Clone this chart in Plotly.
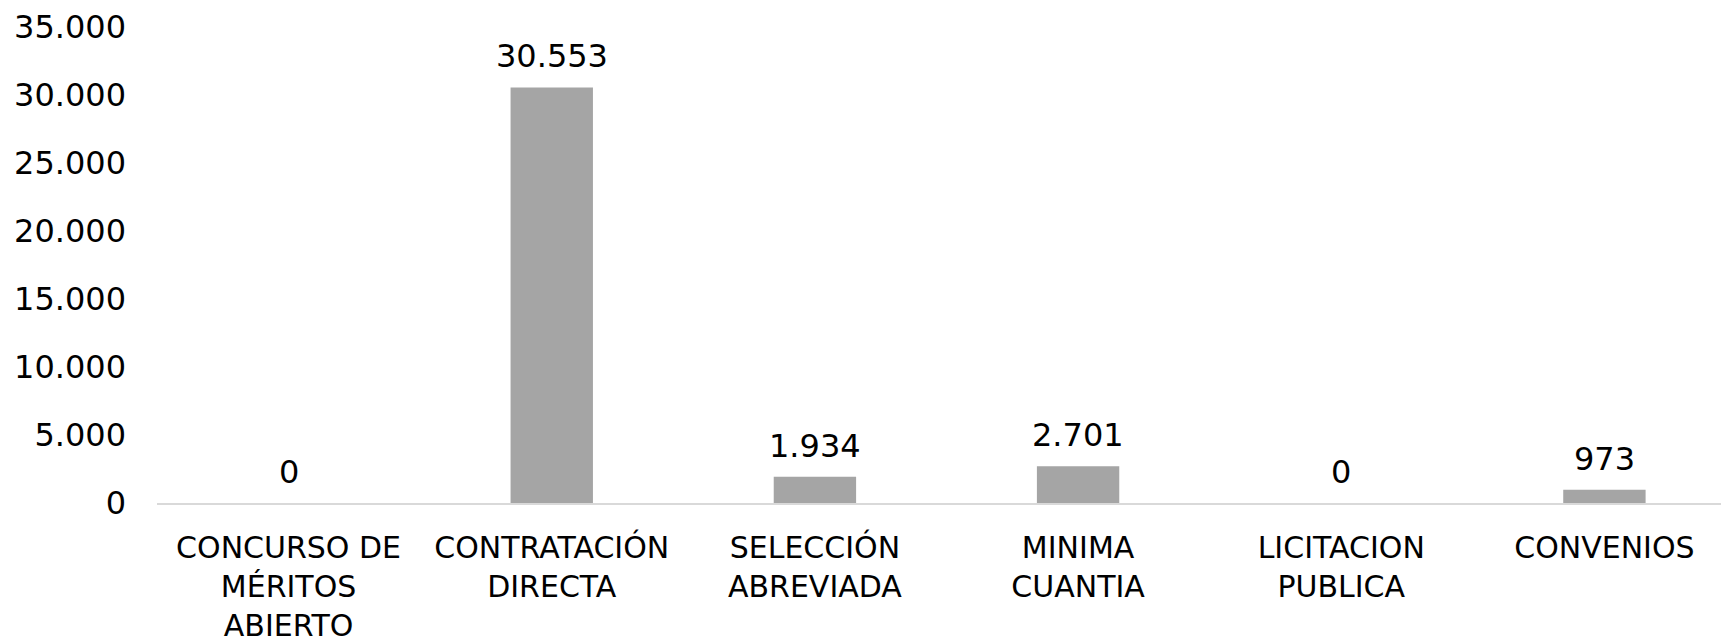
import plotly.graph_objects as go

categories = ["CONCURSO DE<br>MÉRITOS<br>ABIERTO", "CONTRATACIÓN<br>DIRECTA", "SELECCIÓN<br>ABREVIADA",
              "MINIMA<br>CUANTIA", "LICITACION<br>PUBLICA", "CONVENIOS"]
values = [0, 30553, 1934, 2701, 0, 973]
y_ticks = [0, 5000, 10000, 15000, 20000, 25000, 30000, 35000]

FONT = "DejaVu Sans"
FS = 32
FSX = 30

def fmt(v):
    return f"{v:,}".replace(",", ".")

fig = go.Figure()
fig.add_trace(go.Bar(x=categories, y=values, marker=dict(color="#a5a5a5", line=dict(width=0)),
                     width=0.313, hoverinfo="skip"))

for c, v in zip(categories, values):
    fig.add_annotation(x=c, y=v, text=fmt(v), showarrow=False, yanchor="middle", yshift=31,
                       font=dict(family=FONT, size=FS, color="#000000"))

fig.update_layout(
    width=1721, height=639,
    margin=dict(l=157, r=0, t=27, b=135.5),
    paper_bgcolor="white", plot_bgcolor="white",
    separators=",.",
    showlegend=False,
    font=dict(family=FONT, size=FS, color="#000000"),
)
fig.update_xaxes(range=[-0.5, 5.443], showline=True, linecolor="#d9d9d9", linewidth=2,
                 showgrid=False, zeroline=False, ticks="", tickangle=0, ticklabelstandoff=17,
                 automargin=False,
                 tickfont=dict(family=FONT, size=FSX, color="#000000"))
fig.update_yaxes(range=[0, 35000], tickvals=y_ticks, ticktext=[fmt(t) for t in y_ticks],
                 showgrid=False, zeroline=False, showline=False, ticks="", ticklabelstandoff=30,
                 automargin=False,
                 tickfont=dict(family=FONT, size=FS, color="#000000"))

fig.write_html("out.html", config={"displayModeBar": False},
               post_script="document.body.style.margin='0';document.body.style.overflow='hidden';")
